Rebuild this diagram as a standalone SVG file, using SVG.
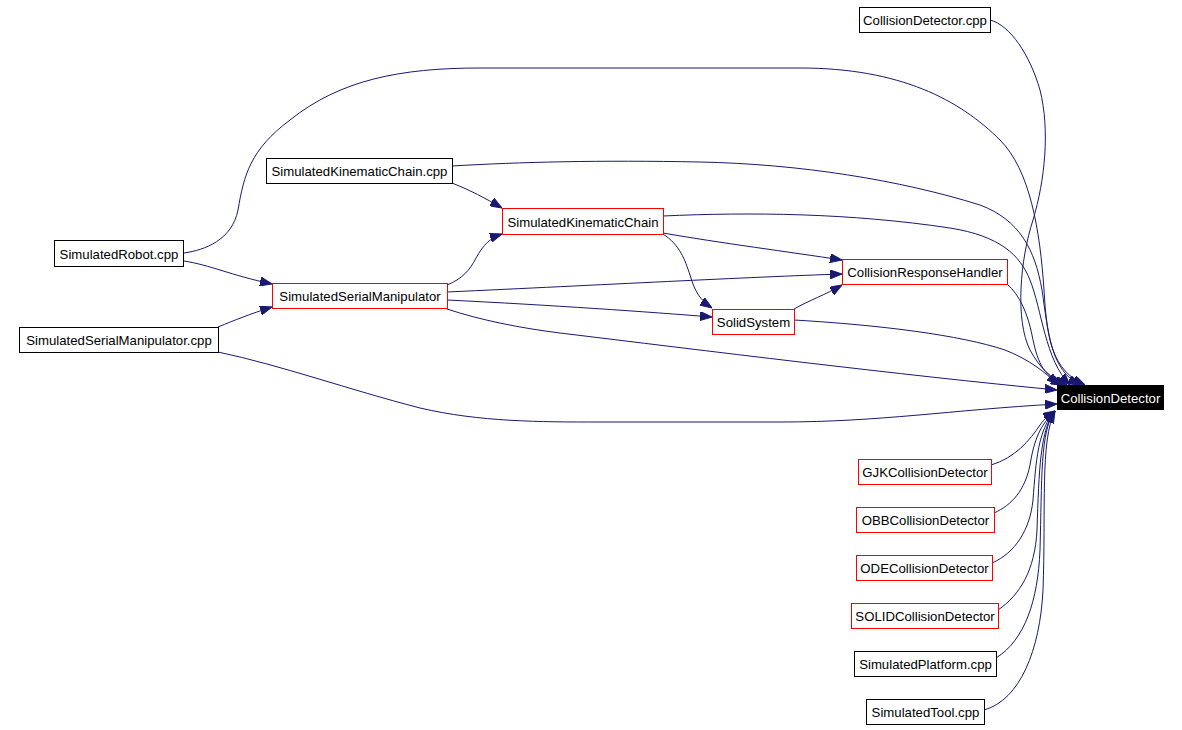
<svg xmlns="http://www.w3.org/2000/svg" width="1182" height="730" viewBox="0 0 1182 730">
<style>
.n rect{fill:#fff;stroke:#000;stroke-width:1}
.r rect{stroke:#f00}
.b rect{fill:#000}
.n text{font-family:"Liberation Sans",Arial,sans-serif;font-size:13.2px;text-anchor:middle;fill:#000}
.b text{fill:#fff}
.e path{fill:none;stroke:#191970;stroke-width:1;marker-end:url(#a)}
</style>
<defs>
<marker id="a" markerUnits="userSpaceOnUse" viewBox="0 0 12 9" refX="12" refY="4.5" markerWidth="12" markerHeight="9" orient="auto">
<path d="M0,0 L12,4.5 L0,9 z" fill="#191970" stroke="#191970"/>
</marker>
</defs>
<rect width="1182" height="730" fill="#fff"/>
<g id="edges" class="e">
<path d="M184,253 C205,250 232,240 238,210 C244,175 250,150 290,120 C340,80 400,68 480,68 L800,68 C900,68 960,100 1000,140 C1030,170 1040,230 1044,290 C1047,340 1052,370 1085,385"/>
<path d="M452,166 C520,162 600,160 700,162 C800,164 900,180 980,205 C1020,220 1035,250 1042,290 C1048,330 1050,370 1080,385"/>
<path d="M452,183 C470,190 485,198 502,208"/>
<path d="M184,261 C210,265 230,275 272,284"/>
<path d="M218,327 C235,320 250,314 272,307"/>
<path d="M218,352 C280,365 350,390 420,408 C480,422 540,422 600,422 L780,422 C880,422 950,410 1057,404"/>
<path d="M447,285 C462,279 470,270 476,258 C484,244 490,238 502,234"/>
<path d="M447,292 C600,285 750,277 842,274"/>
<path d="M447,300 C550,305 650,312 712,317"/>
<path d="M447,309 C480,320 520,328 560,333 C700,350 900,375 1057,390"/>
<path d="M663,216 C750,212 850,213 950,228 C1000,236 1020,255 1030,280 C1042,310 1045,360 1070,385"/>
<path d="M663,233 C720,243 790,252 842,260"/>
<path d="M663,234 C680,245 685,260 690,275 C695,292 700,300 712,308"/>
<path d="M794,309 C810,300 825,295 842,285"/>
<path d="M794,320 C880,325 960,335 1005,350 C1030,360 1045,372 1058,385"/>
<path d="M1007,284 C1020,295 1028,315 1032,335 C1037,360 1042,375 1063,385"/>
<path d="M990,20 C1010,25 1030,55 1040,90 C1050,130 1045,180 1033,220 C1020,260 1015,320 1030,350 C1040,368 1050,378 1067,385"/>
<path d="M991,465 C1015,458 1030,440 1040,425 C1045,418 1050,414 1055,411"/>
<path d="M994,513 C1012,505 1025,490 1030,465 C1034,440 1040,425 1055,411"/>
<path d="M992,563 C1015,553 1030,530 1033,500 C1036,460 1038,430 1055,411"/>
<path d="M998,610 C1020,595 1035,570 1037,530 C1039,470 1040,430 1055,411"/>
<path d="M996,658 C1025,640 1038,600 1040,550 C1042,480 1040,430 1055,411"/>
<path d="M984,710 C1020,700 1040,650 1043,590 C1046,510 1040,440 1055,411"/>
</g>
<g id="n_cdcpp" class="n"><rect x="859.5" y="7.5" width="131" height="25"/><text x="925" y="25">CollisionDetector.cpp</text></g>
<g id="n_skccpp" class="n"><rect x="266.5" y="158.5" width="186" height="25"/><text x="359.5" y="176">SimulatedKinematicChain.cpp</text></g>
<g id="n_robot" class="n"><rect x="54.5" y="240.5" width="129" height="26"/><text x="119" y="258.5">SimulatedRobot.cpp</text></g>
<g id="n_ssm" class="n r"><rect x="272.5" y="283.5" width="175" height="25"/><text x="360" y="301">SimulatedSerialManipulator</text></g>
<g id="n_ssmcpp" class="n"><rect x="19.5" y="327.5" width="199" height="25"/><text x="119" y="345">SimulatedSerialManipulator.cpp</text></g>
<g id="n_skc" class="n r"><rect x="502.5" y="208.5" width="161" height="26"/><text x="583" y="226.5">SimulatedKinematicChain</text></g>
<g id="n_ss" class="n r"><rect x="712.5" y="309.5" width="82" height="25"/><text x="753.5" y="327">SolidSystem</text></g>
<g id="n_crh" class="n r"><rect x="842.5" y="259.5" width="165" height="25"/><text x="925" y="277">CollisionResponseHandler</text></g>
<g id="n_cd" class="n b"><rect x="1057.5" y="385.5" width="106" height="24"/><text x="1110.5" y="402.5">CollisionDetector</text></g>
<g id="n_gjk" class="n r"><rect x="858.5" y="459.5" width="133" height="25"/><text x="925" y="477">GJKCollisionDetector</text></g>
<g id="n_obb" class="n r"><rect x="856.5" y="507.5" width="138" height="25"/><text x="925.5" y="525">OBBCollisionDetector</text></g>
<g id="n_ode" class="n r"><rect x="856.5" y="555.5" width="136" height="25"/><text x="924.5" y="573">ODECollisionDetector</text></g>
<g id="n_solid" class="n r"><rect x="851.5" y="603.5" width="147" height="25"/><text x="925" y="621">SOLIDCollisionDetector</text></g>
<g id="n_platform" class="n"><rect x="854.5" y="651.5" width="142" height="25"/><text x="925.5" y="669">SimulatedPlatform.cpp</text></g>
<g id="n_tool" class="n"><rect x="866.5" y="699.5" width="118" height="25"/><text x="925.5" y="717">SimulatedTool.cpp</text></g>
</svg>
